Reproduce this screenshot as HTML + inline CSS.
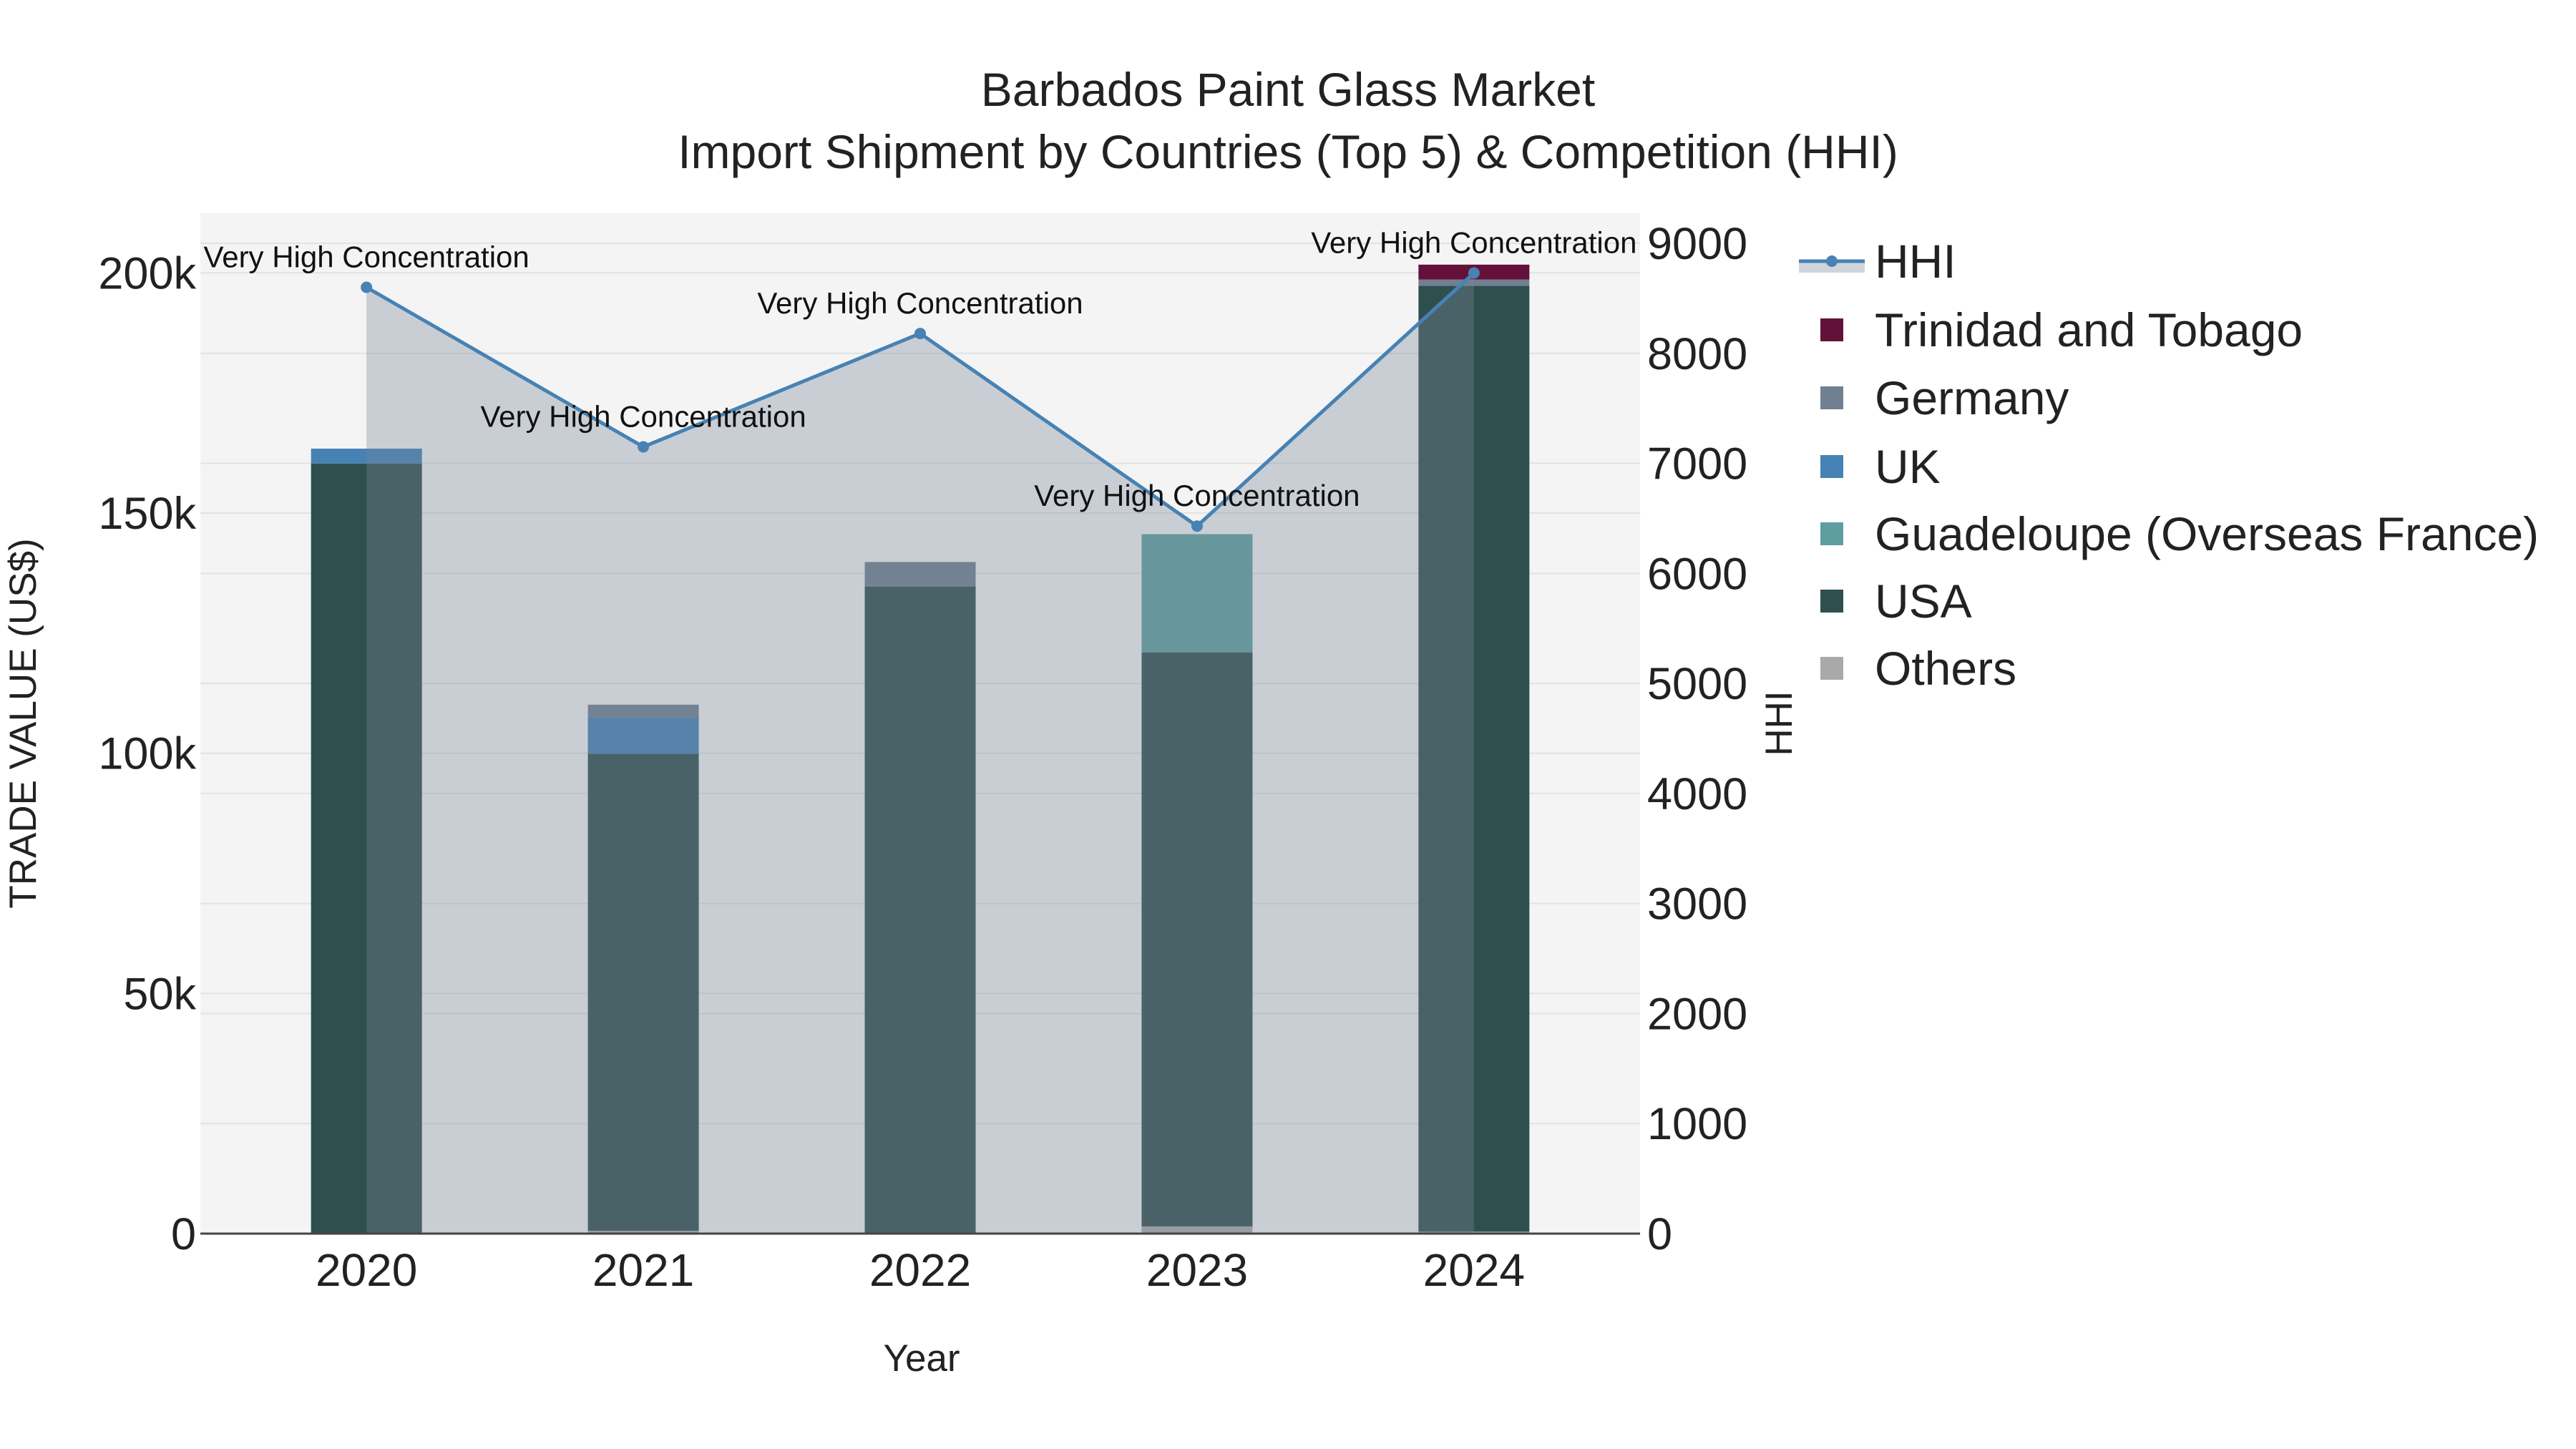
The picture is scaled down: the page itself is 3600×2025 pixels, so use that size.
<!DOCTYPE html>
<html><head><meta charset="utf-8"><style>
html,body{margin:0;padding:0;background:#fff;}
svg{display:block;font-family:"Liberation Sans",Arial,sans-serif;}
</style></head><body>
<svg id="chart" width="3600" height="2025" viewBox="0 0 3600 2025" xmlns="http://www.w3.org/2000/svg">
<rect width="3600" height="2025" fill="#fff"/>
<text x="1800" y="148" font-size="66" text-anchor="middle" fill="#222">Barbados Paint Glass Market</text>
<text x="1800" y="235" font-size="66" text-anchor="middle" fill="#222">Import Shipment by Countries (Top 5) &amp; Competition (HHI)</text>
<rect x="280" y="298" width="2012" height="1426" fill="#f4f4f4"/>
<g id="grid"></g>
<g id="bars"></g>
<g id="hhi"></g>
<g id="axes"></g>
<text x="1288" y="1916" font-size="53" text-anchor="middle" fill="#222">Year</text>
<text x="0" y="0" font-size="53" text-anchor="middle" fill="#222" transform="translate(50,1011) rotate(-90)">TRADE VALUE (US$)</text>
<text x="0" y="0" font-size="53" text-anchor="middle" fill="#222" transform="translate(2504,1011) rotate(-90)">HHI</text>
<g id="legend"></g>
</svg>
<script>
const years = ["2020","2021","2022","2023","2024"];
const seriesNames = ["Others","USA","Guadeloupe (Overseas France)","UK","Germany","Trinidad and Tobago"];
const seriesColors = ["#a9a9a9","#2f4f4f","#5f9ea0","#4682b4","#708090","#641139"];
const others = [0, 600, 0, 1500, 400];
const usa = [160300, 99300, 134700, 119500, 196900];
const guadeloupe = [0, 0, 0, 24600, 0];
const uk = [3100, 7500, 0, 0, 0];
const germany = [0, 2700, 5100, 0, 1300];
const trinidad = [0, 0, 0, 0, 3100];
const hhi = [8600, 7150, 8180, 6430, 8730];
const hhiLabels = ["Very High Concentration","Very High Concentration","Very High Concentration","Very High Concentration","Very High Concentration"];
const yTicks = [0, 50000, 100000, 150000, 200000];
const yTickLabels = ["0","50k","100k","150k","200k"];
const y2Ticks = [0,1000,2000,3000,4000,5000,6000,7000,8000,9000];

const NS = "http://www.w3.org/2000/svg";
const L = 280, R = 2292, T = 298, B = 1724;
const yMax = 212400, y2Max = 9273;
const xPos = i => L + (i + 0.6) / 5.2 * (R - L);
const yPos = v => B - v / yMax * (B - T);
const y2Pos = v => B - v / y2Max * (B - T);
const barW = 155;
function mk(tag, attrs, parent, text) {
  const e = document.createElementNS(NS, tag);
  for (const k in attrs) e.setAttribute(k, attrs[k]);
  if (text !== undefined) e.textContent = text;
  parent.appendChild(e);
  return e;
}
const grid = document.getElementById("grid");
yTicks.forEach((t, i) => {
  const l = mk("line", {x1: L, x2: R, y1: yPos(t), y2: yPos(t), stroke: "#e2e2e2", "stroke-width": 2}, grid);
  
  
});
y2Ticks.forEach(t => {
  const l = mk("line", {x1: L, x2: R, y1: y2Pos(t), y2: y2Pos(t), stroke: "#e2e2e2", "stroke-width": 2}, grid);
  
  
});
const bars = document.getElementById("bars");
const allSeries = [others, usa, guadeloupe, uk, germany, trinidad];
years.forEach((yr, i) => {
  let base = 0;
  allSeries.forEach((s, k) => {
    const v = s[i];
    if (v <= 0) return;
    const r = mk("rect", {x: xPos(i) - barW / 2, y: yPos(base + v), width: barW, height: yPos(base) - yPos(base + v), fill: seriesColors[k]}, bars);
    
    
    base += v;
  });
});
const g = document.getElementById("hhi");
let d = "M" + xPos(0) + "," + B;
hhi.forEach((v, i) => { d += " L" + xPos(i) + "," + y2Pos(v); });
d += " L" + xPos(hhi.length - 1) + "," + B + " Z";
const area = mk("path", {d: d, fill: "rgba(119,136,153,0.35)"}, g);


const pts = hhi.map((v, i) => xPos(i) + "," + y2Pos(v)).join(" ");
const line = mk("polyline", {points: pts, fill: "none", stroke: "#4682b4", "stroke-width": 5}, g);


hhi.forEach((v, i) => {
  const c = mk("circle", {cx: xPos(i), cy: y2Pos(v), r: 8, fill: "#4682b4"}, g);
  
  
  let cx = xPos(i);
  if (cx + 228 > R) cx = R - 228;
  const t = mk("text", {x: cx, y: y2Pos(v) - 28, "font-size": 42, "text-anchor": "middle", fill: "#111"}, g, hhiLabels[i]);
  
  
});
const ax = document.getElementById("axes");
const zl = mk("line", {x1: L, x2: R, y1: B, y2: B, stroke: "#444", "stroke-width": 3}, ax);


yTicks.forEach((t, i) => {
  const e = mk("text", {x: L - 6, y: yPos(t) + 22, "font-size": 63, "text-anchor": "end", fill: "#222"}, ax, yTickLabels[i]);
  
  
});
y2Ticks.forEach(t => {
  const e = mk("text", {x: R + 10, y: y2Pos(t) + 22, "font-size": 63, "text-anchor": "start", fill: "#222"}, ax, String(t));
  
  
});
years.forEach((yr, i) => {
  const e = mk("text", {x: xPos(i), y: 1797, "font-size": 64, "text-anchor": "middle", fill: "#222"}, ax, yr);
  
  
});
const lg = document.getElementById("legend");
const legRowsY = [365, 461, 556, 652, 746, 840, 934];
const hl = mk("rect", {x: 2514, y: 365, width: 92, height: 16, fill: "rgba(119,136,153,0.35)"}, lg);


const hline = mk("line", {x1: 2514, x2: 2606, y1: 365, y2: 365, stroke: "#4682b4", "stroke-width": 5}, lg);


const hc = mk("circle", {cx: 2560, cy: 365, r: 8, fill: "#4682b4"}, lg);


const ht = mk("text", {x: 2620, y: 388, "font-size": 66, fill: "#222"}, lg, "HHI");


const legOrder = [5, 4, 3, 2, 1, 0];
legOrder.forEach((k, j) => {
  const y = legRowsY[j + 1];
  const sw = mk("rect", {x: 2544, y: y - 16, width: 32, height: 32, fill: seriesColors[k]}, lg);
  
  
  const tx = mk("text", {x: 2620, y: y + 23, "font-size": 66, fill: "#222"}, lg, seriesNames[k]);
  
  
});
</script>
</body></html>
